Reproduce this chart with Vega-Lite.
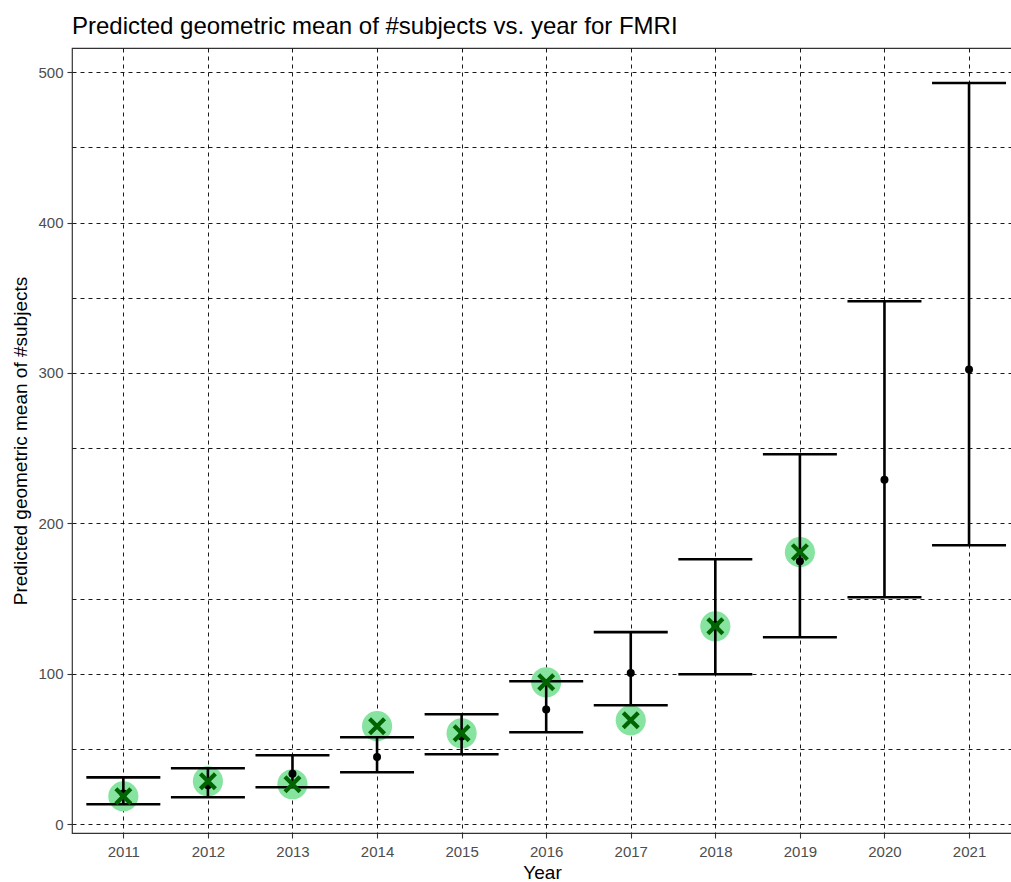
{
  "$schema": "https://vega.github.io/schema/vega-lite/v6.json",
  "width": 940,
  "height": 785,
  "autosize": {"type": "none"},
  "padding": {"left": 72, "top": 48, "right": 0, "bottom": 49},
  "background": "white",
  "title": {
    "text": "Predicted geometric mean of #subjects vs. year for FMRI",
    "anchor": "start",
    "frame": "group",
    "font": "Liberation Sans",
    "fontSize": 24,
    "fontWeight": "normal",
    "color": "black",
    "offset": 9
  },
  "data": {
    "values": [
      {"year": 2011, "lower": 13.3, "upper": 31.2, "predicted": 20.4, "observed": 18.6},
      {"year": 2012, "lower": 18.0, "upper": 37.2, "predicted": 25.9, "observed": 28.6},
      {"year": 2013, "lower": 24.6, "upper": 45.9, "predicted": 33.6, "observed": 26.6},
      {"year": 2014, "lower": 34.6, "upper": 57.8, "predicted": 44.7, "observed": 65.2},
      {"year": 2015, "lower": 46.5, "upper": 73.1, "predicted": 58.3, "observed": 60.5},
      {"year": 2016, "lower": 61.2, "upper": 95.1, "predicted": 76.3, "observed": 94.4},
      {"year": 2017, "lower": 79.1, "upper": 127.7, "predicted": 100.5, "observed": 69.1},
      {"year": 2018, "lower": 99.7, "upper": 176.2, "predicted": 132.5, "observed": 131.6},
      {"year": 2019, "lower": 124.3, "upper": 246.0, "predicted": 174.9, "observed": 180.9},
      {"year": 2020, "lower": 150.9, "upper": 347.7, "predicted": 229.0, "observed": null},
      {"year": 2021, "lower": 185.5, "upper": 492.7, "predicted": 302.3, "observed": null}
    ]
  },
  "config": {
    "view": {"stroke": "#333333", "strokeWidth": 1.2},
    "axis": {
      "domain": false,
      "grid": true,
      "gridColor": "black",
      "gridDash": [4, 4],
      "gridWidth": 0.9,
      "gridOpacity": 1,
      "tickColor": "#333333",
      "tickSize": 5,
      "tickWidth": 1.1,
      "labelColor": "#4D4D4D",
      "labelFont": "Liberation Sans",
      "labelFontSize": 15,
      "titleFont": "Liberation Sans",
      "titleFontSize": 19,
      "titleFontWeight": "normal",
      "titleColor": "black"
    }
  },
  "encoding": {
    "x": {
      "field": "year",
      "type": "quantitative",
      "scale": {"domain": [2010.393, 2021.508], "nice": false, "zero": false},
      "axis": {
        "title": "Year",
        "values": [2011, 2012, 2013, 2014, 2015, 2016, 2017, 2018, 2019, 2020, 2021],
        "format": "d",
        "labelPadding": 6,
        "titlePadding": 4
      }
    }
  },
  "layer": [
    {
      "mark": {"type": "point", "filled": true, "fill": "#87E3A0", "opacity": 1, "size": 908, "strokeWidth": 0},
      "encoding": {
        "y": {
          "field": "observed",
          "type": "quantitative",
          "title": "Predicted geometric mean of #subjects",
          "scale": {"domain": [-5.8, 516], "nice": false, "zero": false},
          "axis": {
            "values": [0, 50, 100, 150, 200, 250, 300, 350, 400, 450, 500],
            "labelExpr": "datum.value % 100 === 0 ? datum.label : ''",
            "tickOpacity": {"condition": {"test": "datum.value % 100 === 0", "value": 1}, "value": 0},
            "labelPadding": 4,
            "titlePadding": 7
          }
        }
      }
    },
    {
      "mark": {
        "type": "errorbar",
        "color": "black",
        "rule": {"strokeWidth": 2.6, "opacity": 1},
        "ticks": {"size": 74, "thickness": 2.6, "color": "black", "opacity": 1}
      },
      "encoding": {
        "y": {"field": "lower", "type": "quantitative", "title": "Predicted geometric mean of #subjects"},
        "y2": {"field": "upper"}
      }
    },
    {
      "mark": {"type": "point", "filled": true, "color": "black", "opacity": 1, "size": 64},
      "encoding": {
        "y": {"field": "predicted", "type": "quantitative", "title": "Predicted geometric mean of #subjects"}
      }
    },
    {
      "mark": {
        "type": "point",
        "shape": "M-1,-1L1,1M-1,1L1,-1",
        "filled": false,
        "stroke": "#006400",
        "strokeWidth": 4.2,
        "opacity": 1,
        "size": 225
      },
      "encoding": {
        "y": {"field": "observed", "type": "quantitative", "title": "Predicted geometric mean of #subjects"}
      }
    }
  ]
}
